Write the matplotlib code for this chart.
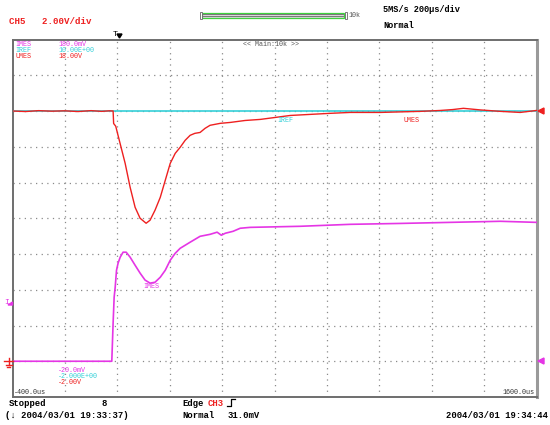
import matplotlib
matplotlib.use("Agg")
import matplotlib.pyplot as plt
from matplotlib.lines import Line2D
from matplotlib.patches import Rectangle, Polygon
import numpy as np

W, H = 550, 425
MONO = ["Liberation Mono", "DejaVu Sans Mono"]

# screen ranges per channel (bottom, top)
umes_range = (-2.0, 18.0)     # V
imes_range = (-20.0, 180.0)   # mV
iref_range = (-2.0, 10.0)

# UMES trace, time in us, value in V
umes_t = [-400, -350, -300, -250, -200, -150, -100, -60, -30, -16, -14, -6, 0,
          30, 49, 68, 87, 110, 125, 144, 164, 183, 202, 221, 240, 259, 278,
          296, 316, 335, 354, 393, 431, 488, 546, 603, 660, 736, 813, 889,
          1004, 1080, 1157, 1233, 1280, 1321, 1386, 1462, 1538, 1600]
umes_v = [14.00, 13.97, 14.02, 13.99, 14.01, 13.97, 14.02, 13.98, 14.01, 14.00,
          13.30, 13.15, 12.80, 11.07, 9.73, 8.61, 8.00, 7.72, 7.89, 8.45,
          9.17, 10.12, 11.07, 11.63, 11.97, 12.36, 12.64, 12.75, 12.80, 13.03,
          13.20, 13.31, 13.36, 13.47, 13.53, 13.64, 13.75, 13.81, 13.87, 13.92,
          13.92, 13.95, 13.98, 14.03, 14.08, 14.15, 14.06, 13.98, 13.92, 14.03]

# IMES trace, time in us, value in mV
imes_t = [-400, -21, -16, -12, -8, -3, 3, 11, 22, 34, 49, 68, 87, 106, 125,
          144, 164, 183, 202, 221, 240, 278, 316, 354, 381, 397, 412, 442,
          469, 507, 698, 889, 1080, 1271, 1462, 1600]
imes_v = [0.0, 0.0, 21.3, 35.9, 41.5, 50.9, 54.9, 58.2, 61.0, 61.0, 58.2,
          53.7, 49.3, 45.4, 43.7, 44.2, 47.0, 50.9, 56.5, 60.4, 63.2, 66.6,
          69.9, 71.0, 72.2, 70.5, 71.6, 72.7, 74.4, 74.9, 75.5, 76.6, 77.1,
          77.7, 78.3, 77.7]

# IREF trace
iref_t = [-400, 1600]
iref_v = [7.6, 7.6]

t_min, t_max = -400.0, 1600.0


def to_div(vals, rng):
    lo, hi = rng
    return (np.asarray(vals) - lo) / (hi - lo) * 10.0


def px(x, y):
    return x / W, 1 - y / H


fig = plt.figure(figsize=(W / 100, H / 100), dpi=100)
fig.patch.set_facecolor("white")

# screen area in pixels
x0, y0, x1, y1 = 12.5, 39.5, 536.5, 397.0
ax = fig.add_axes([x0 / W, 1 - y1 / H, (x1 - x0) / W, (y1 - y0) / H])
ax.set_xlim(t_min, t_max)
ax.set_ylim(0, 10)
ax.set_xticks([])
ax.set_yticks([])
for s in ax.spines.values():
    s.set_color("#6e6e6e")
    s.set_linewidth(1.4)
ax.spines["right"].set_color("#9a9a9a")
ax.spines["right"].set_linewidth(2.2)

# dotted graticule
for gx in np.arange(t_min + 200, t_max, 200):
    ax.axvline(gx, color="#8a8a8a", lw=0.9, ls=(0, (1, 3.5)), zorder=1)
for gy in range(1, 10):
    ax.axhline(gy, color="#8a8a8a", lw=0.9, ls=(0, (1, 3.5)), zorder=1)

ax.plot(imes_t, to_div(imes_v, imes_range), color="#e535e5", lw=1.2, zorder=3)
ax.plot(iref_t, to_div(iref_v, iref_range), color="#35d0d8", lw=1.2, zorder=4)
ax.plot(umes_t, to_div(umes_v, umes_range), color="#ee2020", lw=1.0, zorder=5)

small = dict(family=MONO, fontsize=4.9, va="center", ha="left", zorder=10)
status = dict(family=MONO, fontsize=6.4, va="center", ha="left", fontweight="bold")

# channel legend, top and bottom of screen
fig.text(*px(15, 44), "IMES", color="#e535e5", **small)
fig.text(*px(58, 44), "180.0mV", color="#e535e5", **small)
fig.text(*px(15, 50), "IREF", color="#35d0d8", **small)
fig.text(*px(58, 50), "10.00E+00", color="#35d0d8", **small)
fig.text(*px(15, 56), "UMES", color="#ee2020", **small)
fig.text(*px(58, 56), "18.00V", color="#ee2020", **small)
fig.text(*px(58, 370), "-20.0mV", color="#e535e5", **small)
fig.text(*px(58, 376), "-2.000E+00", color="#35d0d8", **small)
fig.text(*px(58, 382), "-2.00V", color="#ee2020", **small)
fig.text(*px(14, 392.5), "-400.0us", color="#333333", **small)
fig.text(*px(534, 392.5), "1600.0us", color="#333333",
         **{**small, "ha": "right"})
fig.text(*px(243, 45), "<< Main:10k >>", color="#555555", **small)

# trace labels
fig.text(*px(277, 120), "IREF", color="#35d0d8", **small)
fig.text(*px(403, 120), "UMES", color="#ee2020", **small)
fig.text(*px(143, 286), "IMES", color="#e535e5", **small)

# header
fig.text(*px(9, 22), "CH5   2.00V/div", color="#ee2020",
         **{**status, "fontsize": 6.6})
fig.text(*px(383, 10), "5MS/s 200\u00b5s/div", color="black",
         **{**status, "fontsize": 6.2})
fig.text(*px(383, 25), "Normal", color="black",
         **{**status, "fontsize": 6.2})

# zoom position bar
fig.patches.append(Rectangle(px(202, 18), 142 / W, 5.5 / H,
                             transform=fig.transFigure, facecolor="#d8d8d8",
                             edgecolor="#3fd23f", lw=0.9))
for yy in (14.3, 16.3):
    fig.lines.append(Line2D([203 / W, 343 / W], [1 - yy / H] * 2,
                            transform=fig.transFigure, color="#777777", lw=0.7))
for xx in (200.5, 345.5):
    fig.patches.append(Rectangle(px(xx - 1, 18.5), 2.5 / W, 6.5 / H,
                                 transform=fig.transFigure, facecolor="white",
                                 edgecolor="#666666", lw=0.6))
fig.text(*px(348, 15.5), "10k", color="#555555", **small)

# trigger position marker
fig.text(*px(113, 34.5), "T", color="black",
         **{**status, "fontsize": 6.0, "fontweight": "normal"})
fig.patches.append(Polygon([px(117, 34), px(122, 34), px(119.5, 38)],
                           transform=fig.transFigure, color="black"))

# left / right channel markers
fig.text(*px(4, 302), "I", color="#e535e5",
         **{**status, "fontsize": 5.8, "fontweight": "normal"})
fig.patches.append(Polygon([px(8, 305), px(12.5, 302), px(12.5, 305)],
                           transform=fig.transFigure, color="#e535e5"))
gnd = "#ee2020"
fig.lines.append(Line2D([4 / W, 13 / W], [1 - 361 / H] * 2,
                        transform=fig.transFigure, color=gnd, lw=1.0))
fig.lines.append(Line2D([8.5 / W, 8.5 / W], [1 - 358 / H, 1 - 365 / H],
                        transform=fig.transFigure, color=gnd, lw=1.0))
fig.lines.append(Line2D([5.5 / W, 11.5 / W], [1 - 365 / H] * 2,
                        transform=fig.transFigure, color=gnd, lw=1.0))
fig.lines.append(Line2D([7 / W, 10 / W], [1 - 367 / H] * 2,
                        transform=fig.transFigure, color=gnd, lw=1.0))
fig.patches.append(Polygon([px(538, 111), px(544, 108), px(544, 114)],
                           transform=fig.transFigure, color="#ee2020"))
fig.patches.append(Polygon([px(538, 361), px(544, 358), px(544, 364)],
                           transform=fig.transFigure, color="#e535e5"))

# status line
fig.text(*px(9, 404), "Stopped", color="black", **status)
fig.text(*px(101, 404), "8", color="black", **status)
fig.text(*px(5, 416), "(\u2193 2004/03/01 19:33:37)", color="black", **status)
fig.text(*px(182, 404), "Edge", color="black", **status)
fig.text(*px(208, 404), "CH3", color="#ee2020", **status)
fig.text(*px(182, 416), "Normal", color="black", **status)
fig.text(*px(228, 416), "31.0mV", color="black", **status)
fig.lines.append(Line2D([px(227, 406)[0], px(231, 406)[0], px(231, 399)[0],
                         px(235, 399)[0]],
                        [px(227, 406)[1], px(231, 406)[1], px(231, 399)[1],
                         px(235, 399)[1]],
                        transform=fig.transFigure, color="black", lw=0.9))
fig.text(*px(548, 416), "2004/03/01 19:34:44", color="black",
         **{**status, "ha": "right"})

fig.savefig("out.png", dpi=100)
